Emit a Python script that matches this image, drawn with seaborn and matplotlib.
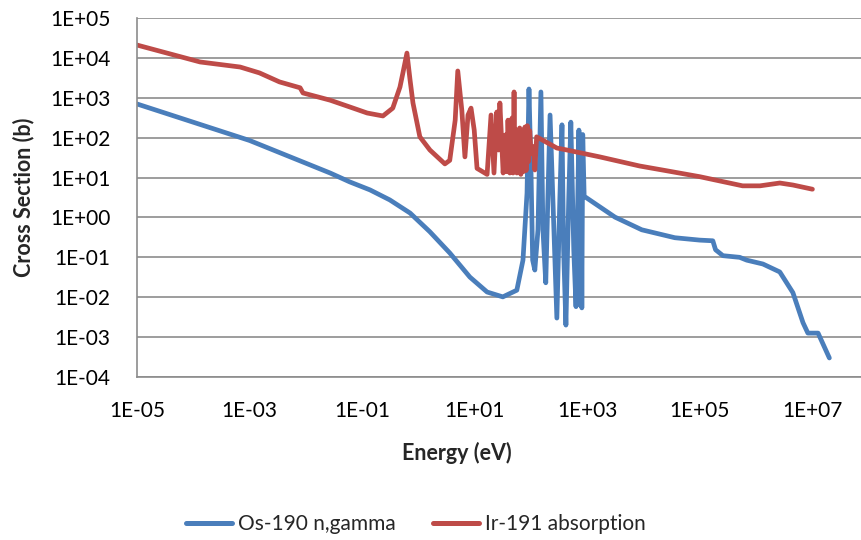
import matplotlib
matplotlib.use("Agg")
import matplotlib.pyplot as plt
import seaborn as sns
import pandas as pd

# Os-190 (n,gamma) cross section: energy (eV) and cross section (b)
os_energy = [1e-5, 1e-3, 0.027, 0.06, 0.138, 0.31, 0.71, 1.59, 3.6, 8.2, 16.6, 31.6,
             56, 72, 85, 92, 100, 107, 117, 133, 150, 163, 183, 199, 218, 245, 288,
             325, 355, 380, 417, 468, 510, 575, 630, 710, 740, 775, 800, 830, 880,
             3100, 9300, 36000, 1e5, 1.7e5, 1.9e5, 2.57e5, 5.1e5, 6.8e5, 1.32e6,
             2.63e6, 4.5e6, 6.8e6, 8.3e6, 1.26e7, 2.0e7]
os_xs = [700, 85, 13.0, 7.8, 4.9, 2.75, 1.29, 0.44, 0.129, 0.032, 0.0135, 0.0102,
         0.015, 0.085, 4.1, 1660, 15, 0.085, 0.048, 0.49, 1400, 0.49, 0.023, 2.7, 370,
         2.8, 0.003, 2.8, 210, 0.15, 0.002, 2.8, 245, 0.155, 0.0058, 155, 0.0065, 87,
         0.0054, 120, 3.4, 1.02, 0.49, 0.31, 0.27, 0.26, 0.155, 0.11, 0.1, 0.085,
         0.068, 0.043, 0.013, 0.0023, 0.00126, 0.00126, 0.0003]

# Ir-191 absorption cross section: energy (eV) and cross section (b)
ir_energy = [1e-5, 1.32e-4, 6.8e-4, 1.5e-3, 3.4e-3, 7.9e-3, 8.9e-3, 0.027, 0.06, 0.123,
             0.234, 0.35, 0.47, 0.53, 0.625, 0.71, 0.80, 1.06, 1.6, 2.95, 3.6, 4.5,
             5.0, 5.9, 6.7, 7.6, 8.6, 9.8, 11, 16.6, 19.5, 22, 24.7, 26.5, 28, 32, 35,
             37, 39, 42, 44, 46, 48, 50, 52, 54, 56, 60, 63, 66, 70, 73, 78, 82, 86,
             90, 95, 100, 110, 117, 126, 288, 437, 1660, 8500, 25700, 1e5, 5.75e5,
             1.17e6, 2.63e6, 4.5e6, 1e7]
ir_xs = [21000, 7900, 5900, 4200, 2500, 1780, 1320, 870, 590, 415, 350, 550, 1860,
         4200, 13200, 2800, 740, 105, 49, 22, 27, 275, 4700, 490, 33, 370, 550, 155,
         17, 12, 370, 13, 440, 49, 740, 13, 117, 14, 275, 13, 200, 310, 13, 1400, 14,
         160, 13, 120, 175, 12, 140, 14, 185, 15, 200, 25, 150, 40, 60, 15.5, 105, 55,
         49, 33, 19.5, 14.8, 10.5, 6.2, 6.2, 7.3, 6.5, 5.1]

series_names = ["Os-190 n,gamma", "Ir-191 absorption"]
series_colors = ["#4A7EBB", "#BE4B48"]

x_ticks = [1e-5, 1e-3, 1e-1, 1e1, 1e3, 1e5, 1e7]
x_tick_labels = ["1E-05", "1E-03", "1E-01", "1E+01", "1E+03", "1E+05", "1E+07"]
y_ticks = [1e-4, 1e-3, 1e-2, 1e-1, 1e0, 1e1, 1e2, 1e3, 1e4, 1e5]
y_tick_labels = ["1E-04", "1E-03", "1E-02", "1E-01", "1E+00", "1E+01", "1E+02",
                 "1E+03", "1E+04", "1E+05"]

df = pd.concat([
    pd.DataFrame({"Energy": os_energy, "XS": os_xs, "Series": series_names[0]}),
    pd.DataFrame({"Energy": ir_energy, "XS": ir_xs, "Series": series_names[1]}),
], ignore_index=True)

sns.set_style("white")
plt.rcParams["font.family"] = ["Lato", "DejaVu Sans"]
plt.rcParams["lines.solid_joinstyle"] = "round"
plt.rcParams["lines.solid_capstyle"] = "round"

W, H = 861, 540
fig = plt.figure(figsize=(W / 100, H / 100), dpi=100)
left_px, right_px, top_px, bottom_px = 137, 925, 18, 377
ax = fig.add_axes([left_px / W, 1 - bottom_px / H,
                   (right_px - left_px) / W, (bottom_px - top_px) / H])

sns.lineplot(data=df, x="Energy", y="XS", hue="Series", hue_order=series_names,
             palette=series_colors, estimator=None, sort=False, lw=3.4, ax=ax,
             legend=False)

ax.set_xscale("log")
ax.set_yscale("log")
ax.set_xlim(1e-5, 1e9)
ax.set_ylim(1e-4, 1e5)
ax.set_xticks(x_ticks)
ax.set_xticklabels(x_tick_labels)
ax.set_yticks(y_ticks)
ax.set_yticklabels(y_tick_labels)
ax.minorticks_off()
ax.tick_params(axis="both", length=0, labelsize=15, colors="#000000")
ax.tick_params(axis="y", pad=19)
ax.tick_params(axis="x", pad=17)

ax.grid(axis="y", color="#8C8C8C", lw=1.2)
ax.grid(axis="x", visible=False)
for side in ["top", "right"]:
    ax.spines[side].set_visible(False)
for side in ["left", "bottom"]:
    ax.spines[side].set_color("#8C8C8C")
    ax.spines[side].set_linewidth(1.2)

ax.set_xlabel("")
ax.set_ylabel("")
fig.text(24 / W, 1 - 197 / H, "Cross Section (b)", rotation=90, ha="center",
         va="center", fontsize=15.5, fontweight="bold")
fig.text(457 / W, 1 - 453 / H, "Energy (eV)", ha="center", va="center",
         fontsize=15.5, fontweight="bold")

handles = [plt.Line2D([], [], color=c, lw=3.6) for c in series_colors]
fig.legend(handles, series_names, loc="center", bbox_to_anchor=(416 / W, 1 - 524 / H),
           ncol=2, frameon=False, fontsize=15, handlelength=2.2, handletextpad=0.3,
           columnspacing=1.8)

fig.savefig("out.png", dpi=100)
